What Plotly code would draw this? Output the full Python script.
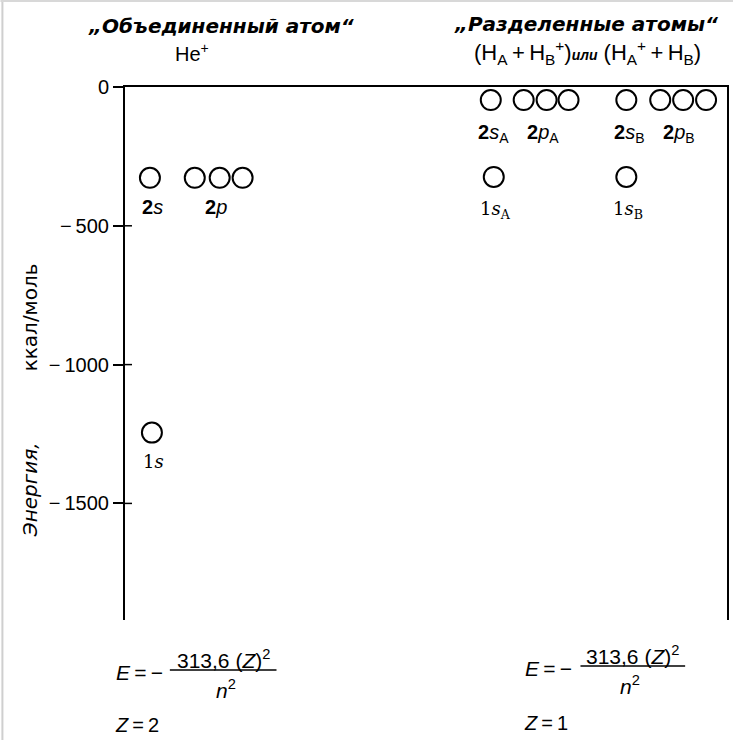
import plotly.graph_objects as go

# ---------------- data ----------------
# energies in kcal/mol
he_orbitals = ["1s", "2s", "2p", "2p", "2p"]
he_energy = [-1245, -327, -327, -327, -327]
he_slot = [27, 25, 70, 95, 118]

ha_orbitals = ["1s", "2s", "2p", "2p", "2p"]
ha_energy = [-324, -47, -47, -47, -47]
ha_slot = [370, 367, 400, 423, 445]

hb_orbitals = ["1s", "2s", "2p", "2p", "2p"]
hb_energy = [-324, -47, -47, -47, -47]
hb_slot = [503, 503, 537, 560, 583]

tick_vals = [0, -500, -1000, -1500]
tick_text = ["0", "−\u2009500", "−\u20091000", "−\u20091500"]
y_range = [-1920, 0]
x_range = [0, 604]

# ---------------- geometry helpers ----------------
W, H = 735, 740
L, R, T, B = 125, 729, 87, 620


def px(x):
    return (x - L) / (R - L)


def py(y):
    return (B - y) / (B - T)


FONT = "Liberation Sans"
WIDE = "DejaVu Sans"
fig = go.Figure()

for xs, ys in [(he_slot, he_energy), (ha_slot, ha_energy), (hb_slot, hb_energy)]:
    fig.add_trace(go.Scatter(
        x=xs, y=ys, mode="markers",
        marker=dict(symbol="circle-open", size=20, color="black",
                    line=dict(width=2, color="black")),
        showlegend=False, hoverinfo="skip"))

ann = []


def label(text, x, y, yshift, xshift=0, serif=False):
    ann.append(dict(x=x, y=y, xref="x", yref="y", text=text, showarrow=False,
                    yshift=yshift, xshift=xshift,
                    font=dict(family="DejaVu Serif" if serif else FONT,
                              size=18 if serif else 20, color="black")))


def group_labels(names, xs, ys, sub, dy):
    extra = 4 if sub else 0
    s1 = "1<i>s</i>" + (f"<sub>{sub}</sub>" if sub else "")
    label(s1, xs[0], ys[0], -dy - extra, 2, serif=True)
    s2 = "<b>2</b><i>s</i>" + (f"<sub>{sub}</sub>" if sub else "")
    label(s2, xs[1], ys[1], -dy - extra, 3)
    p2 = "<b>2</b><i>p</i>" + (f"<sub>{sub}</sub>" if sub else "")
    label(p2, xs[3], ys[3], -dy - extra, -4)


group_labels(he_orbitals, he_slot, he_energy, "", 29)
group_labels(ha_orbitals, ha_slot, ha_energy, "A", 29)
group_labels(hb_orbitals, hb_slot, hb_energy, "B", 29)


def paper_text(text, x, y, size=17, family=FONT, xanchor="center", **kw):
    ann.append(dict(x=px(x), y=py(y), xref="paper", yref="paper", text=text,
                    showarrow=False, xanchor=xanchor, yanchor="middle",
                    font=dict(family=family, size=size, color="black"), **kw))


# titles
paper_text("<b><i>„Объединенный атом“</i></b>", 222, 26, size=20, family=WIDE)
paper_text("He<sup>+</sup>", 192, 53, size=20)
paper_text("<b><i>„Разделенные атомы“</i></b>", 588, 24, size=20, family=WIDE)
paper_text("(H<sub>A</sub>\u2009+\u2009H<sub>B</sub><sup>+</sup>)"
           "<i><b><span style='font-size:14px'>или</span></b></i> "
           "(H<sub>A</sub><sup>+</sup>\u2009+\u2009H<sub>B</sub>)",
           589, 53, size=22)

# y-axis title (two words placed separately)
ann.append(dict(x=px(30), y=py(490), xref="paper", yref="paper",
                text="<i>Энергия,</i>", textangle=-90, showarrow=False,
                xanchor="center", yanchor="middle",
                font=dict(family=WIDE, size=20, color="black")))
ann.append(dict(x=px(30), y=py(317), xref="paper", yref="paper",
                text="ккал/моль", textangle=-90, showarrow=False,
                xanchor="center", yanchor="middle",
                font=dict(family=WIDE, size=20, color="black")))

# formulas
for ex, num_x, den_x, ly, l0, l1, zt, zy in [
        (140, 224, 226, 672, 170, 277, "<i>Z</i>\u2009=\u20092", 725),
        (550, 634, 632, 668, 582, 687, "<i>Z</i>\u2009=\u20091", 723)]:
    paper_text("<i>E</i>\u2009=\u2009−", ex, ly, size=21)
    paper_text("313,6 (<i>Z</i>)<sup>2</sup>", num_x, ly - 13, size=21)
    paper_text("<i>n</i><sup>2</sup>", den_x, ly + 17, size=21)
    paper_text(zt, ex - 3, zy, size=20)
    fig.add_shape(type="line", xref="paper", yref="paper",
                  x0=px(l0), x1=px(l1), y0=py(ly - 2), y1=py(ly - 2),
                  line=dict(color="black", width=1.5))

# inner halves of the crossing ticks
for v in tick_vals[1:]:
    fig.add_shape(type="line", xref="paper", yref="y", x0=0, x1=px(L + 7),
                  y0=v, y1=v, line=dict(color="black", width=1.5))

# faint scan frame (left / top)
fig.add_shape(type="line", xref="paper", yref="paper", x0=px(2), x1=px(2),
              y0=py(0), y1=py(740), line=dict(color="#cfcfcf", width=2))
fig.add_shape(type="line", xref="paper", yref="paper", x0=px(0), x1=px(735),
              y0=py(1), y1=py(1), line=dict(color="#d8d8d8", width=2))

fig.update_layout(
    width=W, height=H,
    margin=dict(l=L, r=W - R, t=T, b=H - B, pad=0),
    paper_bgcolor="white", plot_bgcolor="white",
    annotations=ann,
    xaxis=dict(range=x_range, side="top", showline=True, linecolor="black",
               linewidth=2, showticklabels=False, ticks="", showgrid=False,
               zeroline=False, fixedrange=True),
    yaxis=dict(range=y_range, tickvals=tick_vals, ticktext=tick_text,
               showline=True, mirror=True,
               linecolor="black", linewidth=2, ticks="outside", ticklen=10,
               tickwidth=1.5, tickcolor="black", showgrid=False,
               zeroline=False,
               tickfont=dict(family=FONT, size=20, color="black")),
)

fig.write_html("out.html")
